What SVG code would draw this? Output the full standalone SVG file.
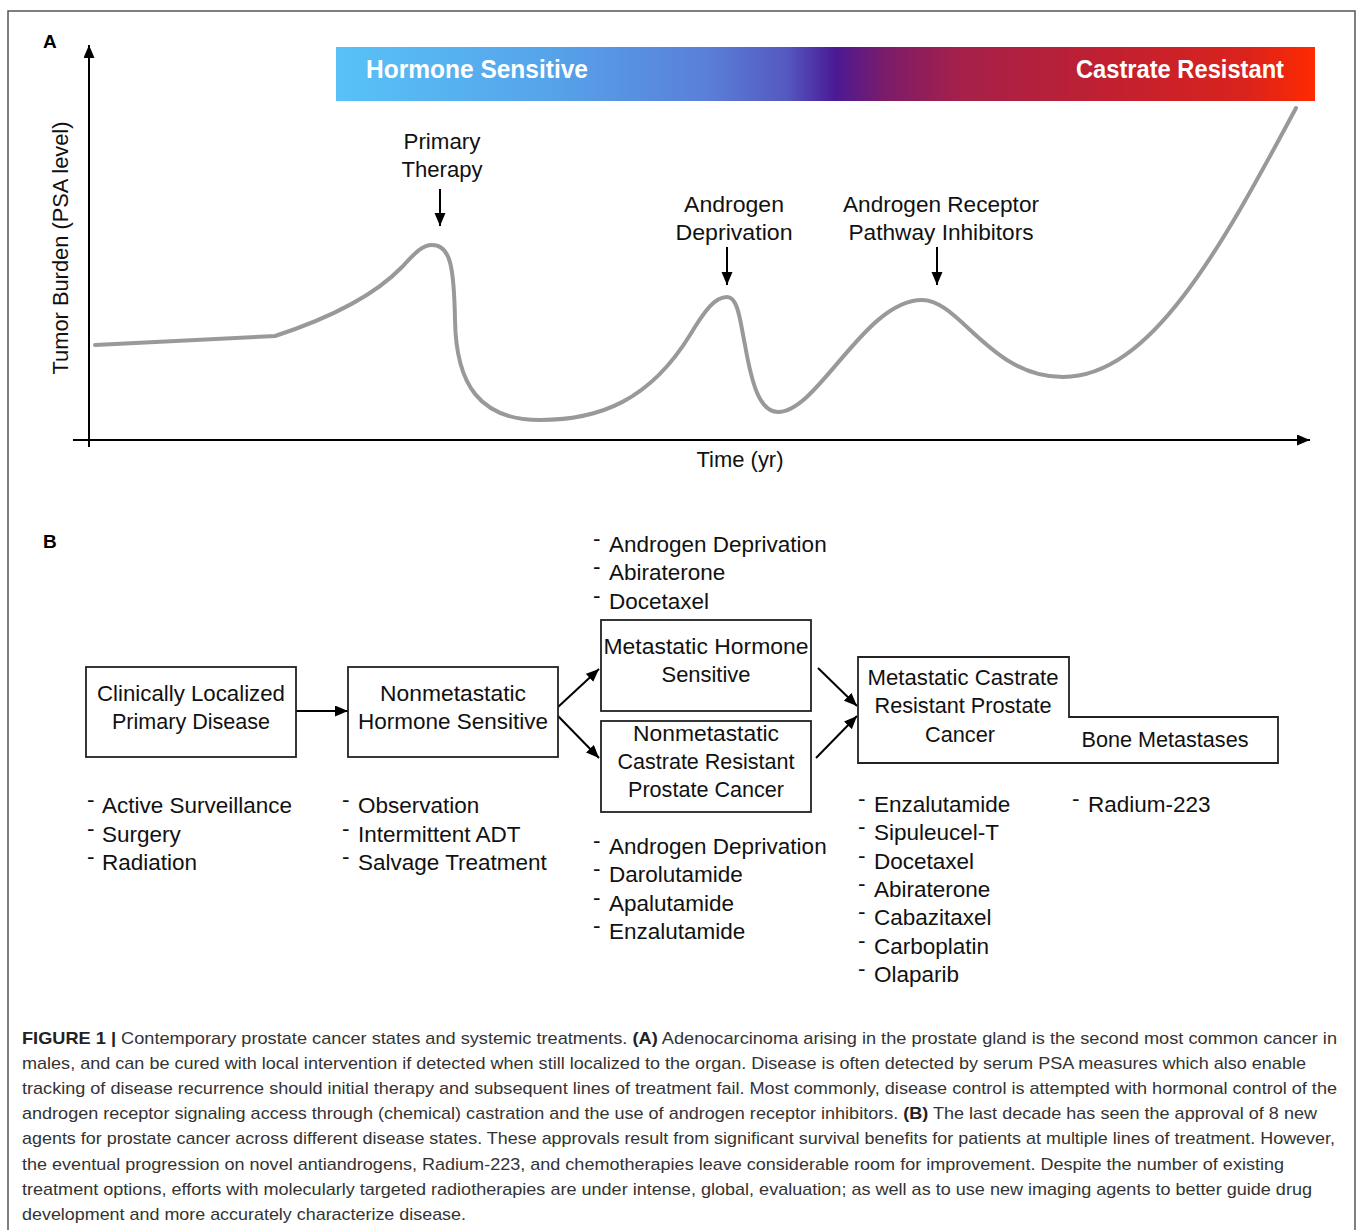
<svg xmlns="http://www.w3.org/2000/svg" width="1357" height="1230" viewBox="0 0 1357 1230">
<defs>
<linearGradient id="stage" x1="0" y1="0" x2="1" y2="0">
<stop offset="0" stop-color="#58c2f7"/>
<stop offset="0.22" stop-color="#56a3ea"/>
<stop offset="0.38" stop-color="#5a7fd8"/>
<stop offset="0.46" stop-color="#5459c0"/>
<stop offset="0.51" stop-color="#4a1a95"/>
<stop offset="0.56" stop-color="#7b1c6a"/>
<stop offset="0.64" stop-color="#a62049"/>
<stop offset="0.8" stop-color="#c3202f"/>
<stop offset="0.93" stop-color="#da231d"/>
<stop offset="1" stop-color="#ff2a00"/>
</linearGradient>
<marker id="ah" markerUnits="userSpaceOnUse" markerWidth="14" markerHeight="12" refX="13" refY="5.5" orient="auto">
<path d="M0,0 L13,5.5 L0,11 z" fill="#000"/>
</marker>
</defs>
<style>
.lbl{font-family:"Liberation Sans",Arial,sans-serif;fill:#111;font-size:22px}
.bar{font-family:"Liberation Sans",Arial,sans-serif;fill:#fff;font-size:25px;font-weight:bold}
.pl{font-family:"Liberation Sans",Arial,sans-serif;font-weight:bold;font-size:19px;fill:#000}
.box{fill:#fff;stroke:#222;stroke-width:1.8}
.li{font-family:"Liberation Sans",Arial,sans-serif;fill:#111;font-size:22.5px}
.cap{font-family:"Liberation Sans",Arial,sans-serif;fill:#333;font-size:17px}
.conn{stroke:#000;stroke-width:2;fill:none;marker-end:url(#ah)}
.curve{stroke:#999;stroke-width:4;fill:none;stroke-linecap:round;stroke-linejoin:round}
</style>
<rect x="0" y="0" width="1357" height="1230" fill="#fff"/>
<rect x="8" y="11" width="1347" height="1240" fill="none" stroke="#555" stroke-width="1.5"/>

<!-- Panel A -->
<g id="panelA">
<text class="pl" x="43" y="48">A</text>
<rect x="336" y="47" width="979" height="54" fill="url(#stage)"/>
<text class="bar" x="366" y="78" textLength="222" lengthAdjust="spacingAndGlyphs">Hormone Sensitive</text>
<text class="bar" x="1076" y="78" textLength="208" lengthAdjust="spacingAndGlyphs">Castrate Resistant</text>
<g id="axes">
<line x1="89" y1="447" x2="89" y2="45" class="conn" stroke-width="2.5"/>
<line x1="73" y1="440" x2="1310" y2="440" class="conn" stroke-width="2.5"/>
<text class="lbl" transform="translate(68,248) rotate(-90)" text-anchor="middle" textLength="253" lengthAdjust="spacingAndGlyphs">Tumor Burden (PSA level)</text>
<text class="lbl" x="740" y="467" text-anchor="middle" textLength="87" lengthAdjust="spacingAndGlyphs">Time (yr)</text>
</g>
<path class="curve" d="M95 345 L275 336 C330 318 375 295 402 267 C415 253 422 245 432 245 C450 245 454 265 455 320 C456 385 480 420 540 420 C600 420 650 400 690 335 C705 310 715 297 727 297 C738 297 740 320 745 345 C752 385 760 412 778 412 C818 412 865 300 922 300 C960 300 990 377 1063 377 C1150 377 1220 250 1296 108"/>
<g id="therapy-primary">
<text class="lbl" x="442" y="149" text-anchor="middle" textLength="77" lengthAdjust="spacingAndGlyphs">Primary</text>
<text class="lbl" x="442" y="177" text-anchor="middle" textLength="81" lengthAdjust="spacingAndGlyphs">Therapy</text>
<line x1="440" y1="189" x2="440" y2="226" class="conn"/>
</g>
<g id="therapy-adt">
<text class="lbl" x="734" y="212" text-anchor="middle" textLength="100" lengthAdjust="spacingAndGlyphs">Androgen</text>
<text class="lbl" x="734" y="240" text-anchor="middle" textLength="117" lengthAdjust="spacingAndGlyphs">Deprivation</text>
<line x1="727" y1="247" x2="727" y2="285" class="conn"/>
</g>
<g id="therapy-arpi">
<text class="lbl" x="941" y="212" text-anchor="middle" textLength="196" lengthAdjust="spacingAndGlyphs">Androgen Receptor</text>
<text class="lbl" x="941" y="240" text-anchor="middle" textLength="185" lengthAdjust="spacingAndGlyphs">Pathway Inhibitors</text>
<line x1="937" y1="247" x2="937" y2="285" class="conn"/>
</g>
</g>

<!-- Panel B -->
<text class="pl" x="43" y="548">B</text>

<g id="connectors">
<line x1="296" y1="711" x2="348" y2="711" class="conn"/>
<line x1="558" y1="707" x2="599" y2="669" class="conn"/>
<line x1="558" y1="716" x2="599" y2="758" class="conn"/>
<line x1="818" y1="668" x2="857" y2="706" class="conn"/>
<line x1="816" y1="758" x2="857" y2="716" class="conn"/>
</g>

<g id="node-localized">
<rect class="box" x="86" y="667" width="210" height="90"/>
<text class="lbl" x="191" y="701" text-anchor="middle" textLength="188" lengthAdjust="spacingAndGlyphs">Clinically Localized</text>
<text class="lbl" x="191" y="729" text-anchor="middle" textLength="158" lengthAdjust="spacingAndGlyphs">Primary Disease</text>
<g class="li">
<text x="87" y="807">-</text><text x="102" y="813">Active Surveillance</text>
<text x="87" y="836">-</text><text x="102" y="842">Surgery</text>
<text x="87" y="864">-</text><text x="102" y="870">Radiation</text>
</g>
</g>

<g id="node-nmhs">
<rect class="box" x="348" y="667" width="210" height="90"/>
<text class="lbl" x="453" y="701" text-anchor="middle" textLength="146" lengthAdjust="spacingAndGlyphs">Nonmetastatic</text>
<text class="lbl" x="453" y="729" text-anchor="middle" textLength="190" lengthAdjust="spacingAndGlyphs">Hormone Sensitive</text>
<g class="li">
<text x="342" y="807">-</text><text x="358" y="813">Observation</text>
<text x="342" y="836">-</text><text x="358" y="842">Intermittent ADT</text>
<text x="342" y="864">-</text><text x="358" y="870">Salvage Treatment</text>
</g>
</g>

<g id="node-mhs">
<rect class="box" x="601" y="620" width="210" height="91"/>
<text class="lbl" x="706" y="654" text-anchor="middle" textLength="205" lengthAdjust="spacingAndGlyphs">Metastatic Hormone</text>
<text class="lbl" x="706" y="682" text-anchor="middle" textLength="89" lengthAdjust="spacingAndGlyphs">Sensitive</text>
<g class="li">
<text x="593" y="546">-</text><text x="609" y="552">Androgen Deprivation</text>
<text x="593" y="574">-</text><text x="609" y="580">Abiraterone</text>
<text x="593" y="603">-</text><text x="609" y="609">Docetaxel</text>
</g>
</g>

<g id="node-nmcrpc">
<rect class="box" x="601" y="721" width="210" height="91"/>
<text class="lbl" x="706" y="741" text-anchor="middle" textLength="146" lengthAdjust="spacingAndGlyphs">Nonmetastatic</text>
<text class="lbl" x="706" y="769" text-anchor="middle" textLength="177" lengthAdjust="spacingAndGlyphs">Castrate Resistant</text>
<text class="lbl" x="706" y="797" text-anchor="middle" textLength="156" lengthAdjust="spacingAndGlyphs">Prostate Cancer</text>
<g class="li">
<text x="593" y="848">-</text><text x="609" y="854">Androgen Deprivation</text>
<text x="593" y="876">-</text><text x="609" y="882">Darolutamide</text>
<text x="593" y="905">-</text><text x="609" y="911">Apalutamide</text>
<text x="593" y="933">-</text><text x="609" y="939">Enzalutamide</text>
</g>
</g>

<g id="node-mcrpc">
<path class="box" d="M858 657 H1069 V717 H1278 V763 H858 Z"/>
<text class="lbl" x="963" y="685" text-anchor="middle" textLength="191" lengthAdjust="spacingAndGlyphs">Metastatic Castrate</text>
<text class="lbl" x="963" y="713" text-anchor="middle" textLength="177" lengthAdjust="spacingAndGlyphs">Resistant Prostate</text>
<text class="lbl" x="960" y="742" text-anchor="middle" textLength="70" lengthAdjust="spacingAndGlyphs">Cancer</text>
<g class="li">
<text x="858" y="806">-</text><text x="874" y="812">Enzalutamide</text>
<text x="858" y="834">-</text><text x="874" y="840">Sipuleucel-T</text>
<text x="858" y="863">-</text><text x="874" y="869">Docetaxel</text>
<text x="858" y="891">-</text><text x="874" y="897">Abiraterone</text>
<text x="858" y="919">-</text><text x="874" y="925">Cabazitaxel</text>
<text x="858" y="948">-</text><text x="874" y="954">Carboplatin</text>
<text x="858" y="976">-</text><text x="874" y="982">Olaparib</text>
</g>
</g>

<g id="node-bone">
<text class="lbl" x="1165" y="747" text-anchor="middle" textLength="167" lengthAdjust="spacingAndGlyphs">Bone Metastases</text>
<g class="li">
<text x="1072" y="806">-</text><text x="1088" y="812">Radium-223</text>
</g>
</g>

<!-- Caption -->
<g id="caption" class="cap">
<text x="22" y="1044" textLength="1315" lengthAdjust="spacingAndGlyphs"><tspan font-weight="bold" fill="#222">FIGURE 1 |</tspan> Contemporary prostate cancer states and systemic treatments. <tspan font-weight="bold" fill="#222">(A)</tspan> Adenocarcinoma arising in the prostate gland is the second most common cancer in</text>
<text x="22" y="1069" textLength="1284" lengthAdjust="spacingAndGlyphs">males, and can be cured with local intervention if detected when still localized to the organ. Disease is often detected by serum PSA measures which also enable</text>
<text x="22" y="1094" textLength="1315" lengthAdjust="spacingAndGlyphs">tracking of disease recurrence should initial therapy and subsequent lines of treatment fail. Most commonly, disease control is attempted with hormonal control of the</text>
<text x="22" y="1119" textLength="1295" lengthAdjust="spacingAndGlyphs">androgen receptor signaling access through (chemical) castration and the use of androgen receptor inhibitors. <tspan font-weight="bold" fill="#222">(B)</tspan> The last decade has seen the approval of 8 new</text>
<text x="22" y="1144" textLength="1313" lengthAdjust="spacingAndGlyphs">agents for prostate cancer across different disease states. These approvals result from significant survival benefits for patients at multiple lines of treatment. However,</text>
<text x="22" y="1170" textLength="1262" lengthAdjust="spacingAndGlyphs">the eventual progression on novel antiandrogens, Radium-223, and chemotherapies leave considerable room for improvement. Despite the number of existing</text>
<text x="22" y="1195" textLength="1290" lengthAdjust="spacingAndGlyphs">treatment options, efforts with molecularly targeted radiotherapies are under intense, global, evaluation; as well as to use new imaging agents to better guide drug</text>
<text x="22" y="1220" textLength="444" lengthAdjust="spacingAndGlyphs">development and more accurately characterize disease.</text>
</g>
</svg>
